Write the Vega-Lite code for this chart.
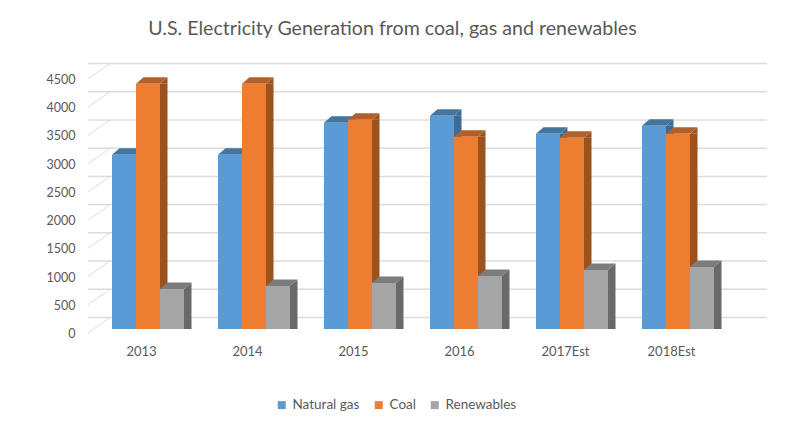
{"$schema":"https://vega.github.io/schema/vega-lite/v6.json","width":657,"height":254,"autosize":"none","padding":{"left":88,"top":75,"right":41,"bottom":97},"background":"white","title":{"text":"U.S. Electricity Generation from coal, gas and renewables","font":"Lato","fontSize":19.6,"fontWeight":"normal","color":"#595959","anchor":"middle","dx":-24,"offset":22},"config":{"view":{"stroke":null}},"datasets":{"bars":[{"year":"2013","series":"Natural gas","value":3085},{"year":"2014","series":"Natural gas","value":3085},{"year":"2015","series":"Natural gas","value":3652},{"year":"2016","series":"Natural gas","value":3777},{"year":"2017Est","series":"Natural gas","value":3457},{"year":"2018Est","series":"Natural gas","value":3600},{"year":"2013","series":"Coal","value":4344},{"year":"2014","series":"Coal","value":4344},{"year":"2015","series":"Coal","value":3706},{"year":"2016","series":"Coal","value":3404},{"year":"2017Est","series":"Coal","value":3387},{"year":"2018Est","series":"Coal","value":3457},{"year":"2013","series":"Renewables","value":709},{"year":"2014","series":"Renewables","value":762},{"year":"2015","series":"Renewables","value":816},{"year":"2016","series":"Renewables","value":940},{"year":"2017Est","series":"Renewables","value":1046},{"year":"2018Est","series":"Renewables","value":1099}],"grid":[{"tick":0},{"tick":500},{"tick":1000},{"tick":1500},{"tick":2000},{"tick":2500},{"tick":3000},{"tick":3500},{"tick":4000},{"tick":4500}]},"encoding":{"y":{"type":"quantitative","scale":{"domain":[0,4500],"nice":false},"axis":{"title":null,"grid":false,"domain":false,"ticks":false,"labelOffset":4.5,"labelPadding":13,"format":"d","values":[0,500,1000,1500,2000,2500,3000,3500,4000,4500],"labelFont":"Lato","labelFontSize":12.5,"labelColor":"#595959"}}},"layer":[{"data":{"name":"grid"},"mark":{"type":"rule","xOffset":22,"x2Offset":-22,"yOffset":-11.5,"color":"#dcdcdc","strokeWidth":1.5},"encoding":{"y":{"field":"tick"}}},{"data":{"name":"grid"},"mark":{"type":"point","shape":"M0 4L22 -11.5","size":4,"filled":false,"stroke":"#dcdcdc","strokeWidth":1,"opacity":1},"encoding":{"y":{"field":"tick"},"x":{"value":0}}},{"data":{"name":"bars"},"transform":[{"filter":"datum.series==='Natural gas'"}],"encoding":{"x":{"field":"year","type":"nominal","scale":{"range":[7,643],"paddingInner":0,"paddingOuter":0},"axis":{"title":null,"domain":false,"ticks":false,"labelAngle":0,"labelPadding":16,"labelOffset":-6.5,"labelFont":"Lato","labelFontSize":13,"labelColor":"#595959"}},"y":{"field":"value"}},"layer":[{"mark":{"type":"bar","width":7.5,"xOffset":-8.25,"y2Offset":-6.5,"color":"#3B6C97"}},{"mark":{"type":"point","shape":"M12 0L19.5 -6.5L19.5 0Z","size":4,"filled":true,"xOffset":-24,"color":"#3B6C97","opacity":1}},{"mark":{"type":"point","shape":"M12 0L12 -6.5L19.5 -6.5Z","size":4,"filled":true,"xOffset":-24,"color":"#3B6C97","opacity":1},"encoding":{"y":{"datum":0}}},{"mark":{"type":"point","shape":"M-12 0L-4.5 -6.5L19.5 -6.5L12 0Z","size":4,"filled":true,"xOffset":-24,"color":"#44759F","opacity":1}},{"mark":{"type":"bar","width":24,"xOffset":-24},"encoding":{"color":{"field":"series","type":"nominal"}}}]},{"data":{"name":"bars"},"transform":[{"filter":"datum.series==='Coal'"}],"encoding":{"x":{"field":"year","type":"nominal"},"y":{"field":"value"}},"layer":[{"mark":{"type":"bar","width":7.5,"xOffset":15.75,"y2Offset":-6.5,"color":"#9C521C"}},{"mark":{"type":"point","shape":"M12 0L19.5 -6.5L19.5 0Z","size":4,"filled":true,"color":"#9C521C","opacity":1}},{"mark":{"type":"point","shape":"M12 0L12 -6.5L19.5 -6.5Z","size":4,"filled":true,"color":"#9C521C","opacity":1},"encoding":{"y":{"datum":0}}},{"mark":{"type":"point","shape":"M-12 0L-4.5 -6.5L19.5 -6.5L12 0Z","size":4,"filled":true,"color":"#B1602B","opacity":1}},{"mark":{"type":"bar","width":24},"encoding":{"color":{"field":"series","type":"nominal"}}}]},{"data":{"name":"bars"},"transform":[{"filter":"datum.series==='Renewables'"}],"encoding":{"x":{"field":"year","type":"nominal"},"y":{"field":"value"}},"layer":[{"mark":{"type":"bar","width":7.5,"xOffset":39.75,"y2Offset":-6.5,"color":"#696969"}},{"mark":{"type":"point","shape":"M12 0L19.5 -6.5L19.5 0Z","size":4,"filled":true,"xOffset":24,"color":"#696969","opacity":1}},{"mark":{"type":"point","shape":"M12 0L12 -6.5L19.5 -6.5Z","size":4,"filled":true,"xOffset":24,"color":"#696969","opacity":1},"encoding":{"y":{"datum":0}}},{"mark":{"type":"point","shape":"M-12 0L-4.5 -6.5L19.5 -6.5L12 0Z","size":4,"filled":true,"xOffset":24,"color":"#7C7C7C","opacity":1}},{"mark":{"type":"bar","width":24,"xOffset":24},"encoding":{"color":{"field":"series","type":"nominal","scale":{"domain":["Natural gas","Coal","Renewables"],"range":["#5B9BD5","#ED7D31","#A5A5A5"]},"legend":{"title":null,"orient":"none","legendX":187,"legendY":323,"direction":"horizontal","columns":3,"symbolType":"square","symbolSize":64,"symbolStrokeWidth":0,"labelFont":"Lato","labelFontSize":13.5,"labelColor":"#595959","columnPadding":12,"labelOffset":4}}}}]}]}
